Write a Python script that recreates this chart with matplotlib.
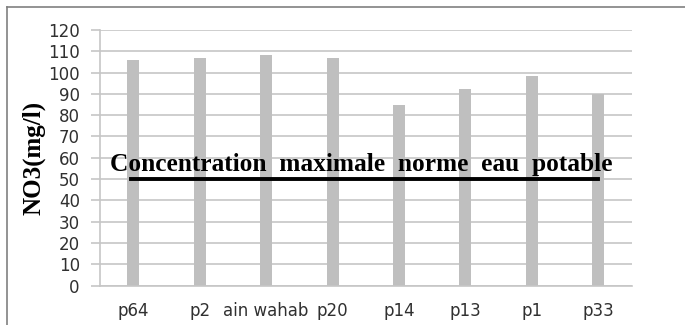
import matplotlib.pyplot as plt
from matplotlib.lines import Line2D

sites = ["p64", "p2", "ain wahab", "p20", "p14", "p13", "p1", "p33"]
no3 = [106, 107, 108, 107, 85, 92.5, 98.5, 90]
norme = 50
norme_label = "Concentration  maximale  norme  eau  potable"


def main():
    fig = plt.figure(figsize=(6.85, 3.25), dpi=100)
    ax = fig.add_axes([0.146, 0.121, 0.776, 0.787])

    x = list(range(len(sites)))
    ax.bar(x, no3, width=0.18, color="#bfbfbf", zorder=2)

    # norme line + label
    ax.plot([-0.03, 7.0], [norme, norme], color="black", lw=2.8, zorder=3)
    ax.text(-0.35, 56.8, norme_label, family="Liberation Serif",
            fontweight="bold", fontsize=18.3, va="center", ha="left", zorder=4)

    ax.set_xlim(-0.5, len(sites) - 0.5)
    ax.set_ylim(0, 120)
    ax.set_yticks(range(0, 121, 10))
    ax.yaxis.grid(True, color="#c6c6c6", lw=1.2, zorder=0)
    ax.set_axisbelow(True)

    ax.set_xticks(x)
    ax.set_xticklabels(sites, fontsize=12, color="#303030")
    ax.tick_params(axis="x", length=0, pad=12)
    ax.tick_params(axis="y", length=6.5, width=1.2, color="#c6c6c6",
                   labelsize=12, labelcolor="#303030", pad=8)

    for side in ("top", "right"):
        ax.spines[side].set_visible(False)
    ax.spines["left"].set_color("#c6c6c6")
    ax.spines["bottom"].set_color("#c6c6c6")
    ax.spines["left"].set_linewidth(1.2)
    ax.spines["bottom"].set_linewidth(1.2)

    ax.set_ylabel("NO3(mg/l)", family="Liberation Serif", fontweight="bold",
                  fontsize=18, labelpad=2)

    # frame around the chart (top and left only visible)
    fig.add_artist(Line2D([0.010, 1.0], [0.978, 0.978], color="#808080",
                          lw=1.2, transform=fig.transFigure))
    fig.add_artist(Line2D([0.010, 0.010], [0.0, 0.978], color="#808080",
                          lw=1.2, transform=fig.transFigure))

    fig.savefig("out.png", dpi=100)


if __name__ == "__main__":
    main()
